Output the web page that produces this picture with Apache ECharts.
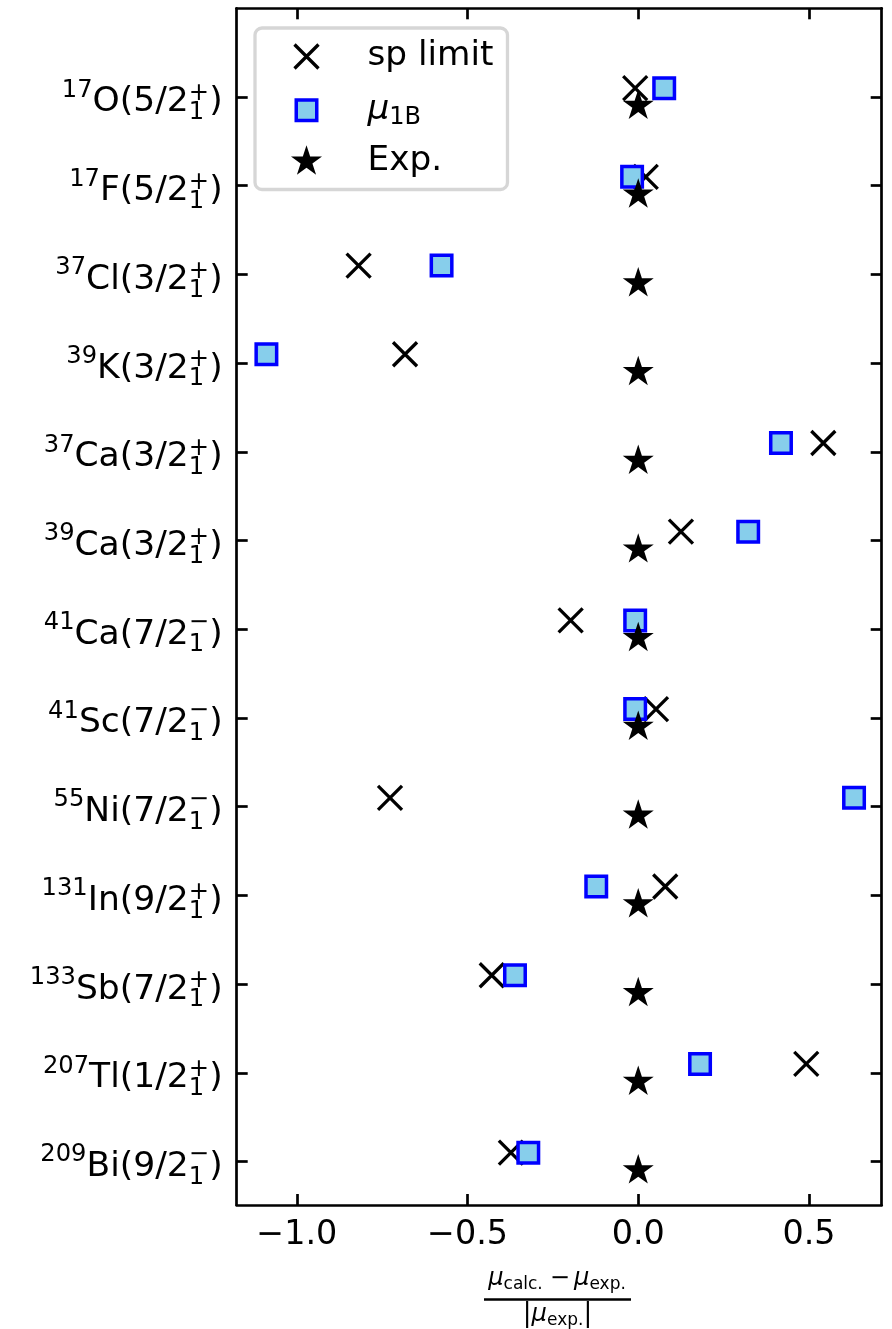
<!DOCTYPE html>
<html><head><meta charset="utf-8">
<script src="https://cdn.jsdelivr.net/npm/echarts@6/dist/echarts.min.js"></script>
<style>html,body{margin:0;padding:0;background:#fff}#c{width:892px;height:1329px}</style>
</head><body><div id="c"></div>
<script>
// ---- data (top to bottom) ----
const massNumbers = ['17','17','37','39','37','39','41','41','55','131','133','207','209'];
const elements = ['O','F','Cl','K','Ca','Ca','Ca','Sc','Ni','In','Sb','Tl','Bi'];
const spins = ['5/2','5/2','3/2','3/2','3/2','3/2','7/2','7/2','7/2','9/2','7/2','1/2','9/2'];
const parities = ['+','+','+','+','+','+','−','−','−','+','+','+','−'];
const spLimit = [-0.009, 0.022, -0.819, -0.683, 0.542, 0.125, -0.198, 0.052, -0.727, 0.079, -0.429, 0.492, -0.373];
const mu1B = [0.076, -0.018, -0.576, -1.089, 0.418, 0.322, -0.009, -0.009, 0.632, -0.123, -0.361, 0.181, -0.322];
const expValues = [0, 0, 0, 0, 0, 0, 0, 0, 0, 0, 0, 0, 0];
const xTicks = [-1.0, -0.5, 0.0, 0.5];
const seriesNames = ['sp limit', 'μ1B', 'Exp.'];

const FONT = 'DejaVu Sans';
const yIdx = massNumbers.map((_, i) => i);

// ---- marker shapes (40px frame) ----
const H = 20;
const frame = 'M' + (-H) + ' ' + (-H) + 'M' + H + ' ' + H;
const crossPath = 'path://' + frame + 'M-12 -12L12 12M12 -12L-12 12';
const squarePath = 'path://' + frame + 'M-10.25 -10.25L10.25 -10.25L10.25 10.25L-10.25 10.25Z';
function makeStar(R) {
  const r = R * 0.381966;
  const pts = [];
  for (let k = 0; k < 10; k++) {
    const a = -Math.PI / 2 + k * Math.PI / 5;
    const rad = k % 2 ? r : R;
    pts.push((rad * Math.cos(a)).toFixed(3) + ' ' + (rad * Math.sin(a)).toFixed(3));
  }
  return 'path://' + frame + 'M' + pts.join('L') + 'Z';
}
const starPath = makeStar(16.3);

const crossStyle = {color: 'none', borderColor: '#000', borderWidth: 3.3, opacity: 1};
const squareStyle = {color: '#87CEEB', borderColor: '#0000FF', borderWidth: 3.5, opacity: 1};
const starStyle = {color: '#000', borderWidth: 0, opacity: 1};

const tb = {fontFamily: FONT, color: '#000', align: 'left', lineHeight: 40};
const yRich = {
  iso: Object.assign({}, tb, {fontSize: 24.2, padding: [0, 0, 13, 0]}),
  el: Object.assign({}, tb, {fontSize: 34.5, padding: [11, 0, 0, 0]}),
  par: Object.assign({}, tb, {fontSize: 24.2, width: 0.01, padding: [0, 0, 6.2, 0]}),
  parm: Object.assign({}, tb, {fontSize: 24.2, width: 0.01, padding: [0, 0, 14, 0]}),
  sub: Object.assign({}, tb, {fontSize: 24.2, width: 20.5, padding: [31.8, 0, 0, 0]})
};

const axisLineStyle = {color: '#000', width: 2.7};
const tickStyle = {color: '#000', width: 2.7};
const XMIN = -1.176, XMAX = 0.713, YMIN = -1.0, YMAX = 12.49;

const chart = echarts.init(document.getElementById('c'), null, {renderer: 'canvas'});
chart.setOption({
  animation: false,
  backgroundColor: '#fff',
  grid: {left: 236.7, right: 10.3, top: 8.3, bottom: 124, outerBoundsMode: 'none', containLabel: false},
  xAxis: [
    {type: 'value', position: 'bottom', min: XMIN, max: XMAX,
     axisLine: {show: true, onZero: false, lineStyle: axisLineStyle},
     axisTick: {show: true, inside: true, length: 11, lineStyle: tickStyle, customValues: xTicks},
     axisLabel: {show: true, customValues: xTicks, margin: 14, fontFamily: FONT, fontSize: 33.4, color: '#000',
       formatter: v => (v < 0 ? '−' : '') + Math.abs(v).toFixed(1)},
     splitLine: {show: false}},
    {type: 'value', position: 'top', min: XMIN, max: XMAX,
     axisLine: {show: true, onZero: false, lineStyle: axisLineStyle},
     axisTick: {show: true, inside: true, length: 11, lineStyle: tickStyle, customValues: xTicks},
     axisLabel: {show: false}, splitLine: {show: false}}
  ],
  yAxis: [
    {type: 'value', position: 'left', inverse: true, min: YMIN, max: YMAX,
     axisLine: {show: true, onZero: false, lineStyle: axisLineStyle},
     axisTick: {show: true, inside: true, length: 11, lineStyle: tickStyle, customValues: yIdx},
     axisLabel: {show: true, customValues: yIdx, margin: 14, fontFamily: FONT, fontSize: 34.5, color: '#000', lineHeight: 40,
       rich: yRich,
       formatter: v => {
         const i = Math.round(v);
         const pk = parities[i] === '+' ? 'par' : 'parm';
         return '{iso|' + massNumbers[i] + '}{el|' + elements[i] + '(' + spins[i] + '}{' + pk + '|' + parities[i] + '}{sub|1}{el|)}';
       }},
     splitLine: {show: false}},
    {type: 'value', position: 'right', inverse: true, min: YMIN, max: YMAX,
     axisLine: {show: true, onZero: false, lineStyle: axisLineStyle},
     axisTick: {show: true, inside: true, length: 11, lineStyle: tickStyle, customValues: yIdx},
     axisLabel: {show: false}, splitLine: {show: false}}
  ],
  legend: {
    orient: 'vertical', left: 255, top: 28, padding: [6, 14, 8, 29],
    itemWidth: 40, itemHeight: 40, itemGap: 9.5, selectedMode: false,
    backgroundColor: '#fff', borderColor: '#d6d6d6', borderWidth: 3.3, borderRadius: 7,
    textStyle: {fontFamily: FONT, fontSize: 34.3, color: '#000', lineHeight: 40, padding: [0, 0, 0, 36],
      rich: {
        mu: {fontFamily: FONT, fontSize: 34.3, fontStyle: 'italic', color: '#000', align: 'left', lineHeight: 40},
        lsub: {fontFamily: FONT, fontSize: 24, color: '#000', align: 'left', lineHeight: 40, verticalAlign: 'bottom'}
      }},
    formatter: name => name === seriesNames[1] ? '{mu|μ}{lsub|1B}' : name,
    data: [
      {name: seriesNames[0], icon: crossPath, itemStyle: crossStyle},
      {name: seriesNames[1], icon: squarePath, itemStyle: squareStyle},
      {name: seriesNames[2], icon: starPath, itemStyle: starStyle}
    ]
  },
  series: [
    {name: seriesNames[0], type: 'scatter', symbol: crossPath, symbolSize: 40, itemStyle: crossStyle,
     data: spLimit.map((v, i) => [v, i - 0.1]), z: 2},
    {name: seriesNames[1], type: 'scatter', symbol: squarePath, symbolSize: 40, itemStyle: squareStyle,
     data: mu1B.map((v, i) => [v, i - 0.1]), z: 3},
    {name: seriesNames[2], type: 'scatter', symbol: starPath, symbolSize: 40, itemStyle: starStyle,
     data: expValues.map((v, i) => [v, i + 0.1]), z: 4}
  ],
  graphic: [
    {type: 'text', x: 557, y: 1278.4, z: 10,
     style: {text: '{mu|μ}{s|calc.}{op|−}{mu|μ}{s|exp.}', align: 'center', verticalAlign: 'middle',
       rich: {
         mu: {fontFamily: FONT, fontSize: 24.2, fontStyle: 'italic', fill: '#000', align: 'left', lineHeight: 30},
         s: {fontFamily: FONT, fontSize: 17, fill: '#000', align: 'left', lineHeight: 30, padding: [11.8, 0, 0, 0]},
         op: {fontFamily: FONT, fontSize: 24.2, fill: '#000', align: 'left', lineHeight: 30, padding: [0, 4, 0, 7]}
       }}},
    {type: 'line', z: 10, shape: {x1: 484, y1: 1299.5, x2: 631, y2: 1299.5}, style: {stroke: '#000', lineWidth: 2.4}},
    {type: 'text', x: 557.5, y: 1314.7, z: 10,
     style: {text: '{b||}{mu|μ}{s|exp.}{b||}', align: 'center', verticalAlign: 'middle',
       rich: {
         b: {fontFamily: FONT, fontSize: 26, fill: '#000', align: 'left', lineHeight: 30},
         mu: {fontFamily: FONT, fontSize: 24.2, fontStyle: 'italic', fill: '#000', align: 'left', lineHeight: 30},
         s: {fontFamily: FONT, fontSize: 17, fill: '#000', align: 'left', lineHeight: 30, padding: [11.8, 0, 0, 0]}
       }}}
  ]
});
</script></body></html>
